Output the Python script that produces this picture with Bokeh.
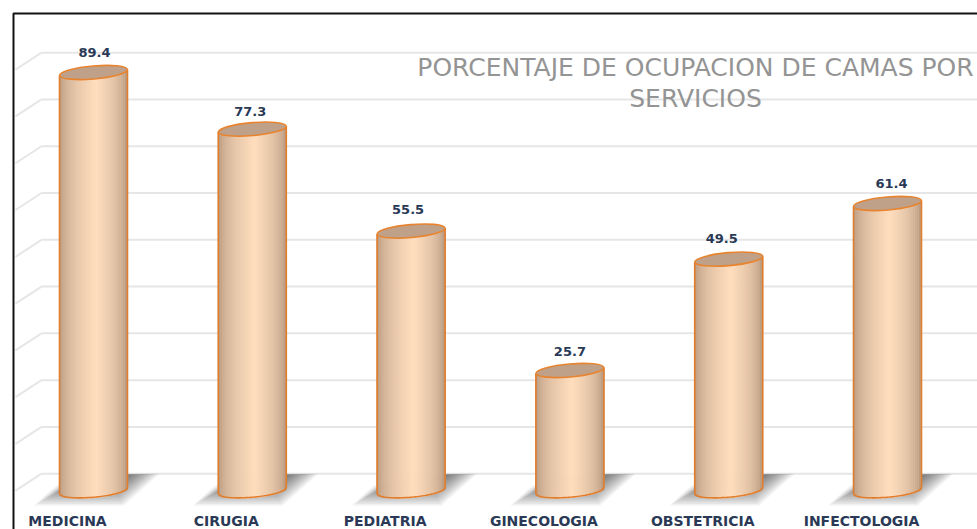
import numpy as np
from bokeh.plotting import figure, ColumnDataSource
from bokeh.models import Range1d
from bokeh.core.properties import value
from bokeh.embed import file_html
from bokeh.resources import INLINE

categories = ["MEDICINA", "CIRUGIA", "PEDIATRIA", "GINECOLOGIA", "OBSTETRICIA", "INFECTOLOGIA"]
occupancy = [89.4, 77.3, 55.5, 25.7, 49.5, 61.4]
grid_ticks = [0, 10, 20, 30, 40, 50, 60, 70, 80, 90]
title_lines = ["PORCENTAJE DE OCUPACION DE CAMAS POR", "SERVICIOS"]

W, H = 977, 529
PX_X = 158.8   # pixels per category
PX_Y = 4.678   # pixels per percent
X0, Y0 = 93.0, 490.2   # pixel position of category 0 / value 0


def dx(px):
    return px / PX_X


def dy(px):
    return px / PX_Y


p = figure(width=W, height=H, output_backend="svg", toolbar_location=None,
           x_range=Range1d(-X0 / PX_X, (W - X0) / PX_X),
           y_range=Range1d(-(H - Y0) / PX_Y, Y0 / PX_Y),
           min_border=0, outline_line_color=None, background_fill_color="white")
p.axis.visible = False
p.grid.visible = False

xs = np.arange(len(categories), dtype=float)
vals = np.array(occupancy)

# outer frame
left_x = -X0 / PX_X + dx(13)
top_y = Y0 / PX_Y - dy(13)
p.line([left_x, left_x, (W - X0) / PX_X], [-(H - Y0) / PX_Y, top_y, top_y], line_color="#111111", line_width=2)

# 3-D wall grid
wall_x = dx(41 - 93)
side_x = dx(15 - 93)
wall_up = dy(17)
ticks = np.array(grid_ticks, dtype=float)
p.segment(x0=[wall_x] * len(ticks), y0=ticks + wall_up, x1=[(W - X0) / PX_X] * len(ticks), y1=ticks + wall_up,
          line_color="#e6e6e6", line_width=2)
p.segment(x0=[side_x] * len(ticks), y0=ticks, x1=[wall_x] * len(ticks), y1=ticks + wall_up,
          line_color="#e6e6e6", line_width=2)

# floor shadows: stacked translucent parallelograms give a soft edge
outer_x = np.array([-5.0, 66.0, 30.0, -60.0])
outer_y = np.array([17.0, 17.0, -15.0, -15.0])
core_x = np.array([-5.0, 40.0, 20.0, -40.0])
core_y = np.array([16.0, 16.0, 4.0, 4.0])
N_LAYERS = 12
for x in xs:
    for k in range(N_LAYERS):
        f = k / (N_LAYERS - 1)
        sx = outer_x + (core_x - outer_x) * f
        sy = outer_y + (core_y - outer_y) * f
        p.patch(x + dx(sx), dy(sy), fill_color="black", fill_alpha=0.05, line_color=None)

# cylinders
A, B = 34.0, 6.5
TILT = np.radians(5)
N_STRIPS = 34
edges = np.linspace(-A, A, N_STRIPS + 1)
mids = (edges[:-1] + edges[1:]) / 2
dark = np.array([170, 140, 116])
light = np.array([255, 222, 190])


def strip_color(u):
    s = 1 - abs((u - 0.08) / (1.08 if u < 0.08 else 0.92))
    s = np.clip(s, 0, 1) ** 0.45
    c = dark + (light - dark) * s
    return "#%02x%02x%02x" % tuple(int(v) for v in c)


for x, v in zip(xs, vals):
    for m, e0, e1 in zip(mids, edges[:-1], edges[1:]):
        rise = np.tan(TILT) * m
        low = B * np.sqrt(max(0, 1 - (m / A) ** 2))
        col = strip_color(m / A)
        p.quad(left=x + dx(e0), right=x + dx(e1), top=v + dy(rise), bottom=dy(rise - low - 0.5),
               fill_color=col, line_color=col, line_width=1)
    arc = np.linspace(-A, A, 41)
    lows = np.tan(TILT) * arc - B * np.sqrt(1 - (arc / A) ** 2)
    px = np.concatenate([[-A], arc, [A]])
    py = np.concatenate([[np.tan(TILT) * -A + v * PX_Y], lows, [np.tan(TILT) * A + v * PX_Y]])
    p.line(x + dx(px), dy(py), line_color="#e27d2c", line_width=1.6)

p.ellipse(x=xs, y=vals, width=2 * A, height=2 * B, width_units="screen", height_units="screen",
          angle=TILT, fill_color="#bfa088", line_color="#e8842f", line_width=1.6)

# value labels (with the small per-label nudges seen in the picture)
label_src = ColumnDataSource(dict(x=xs, y=vals, t=[f"{v:.1f}" for v in vals],
                                  ox=[1, -2, -3, 0, -7, 4], oy=[-20, -18, -22, -19, -21, -20]))
p.text(x="x", y="y", text="t", x_offset="ox", y_offset="oy", source=label_src,
       text_font=value("DejaVu Sans"), text_font_style="bold", text_font_size="13px",
       text_color="#2a3a56", text_align="center", text_baseline="middle")

# category labels
p.text(x=xs, y=[0] * len(xs), text=categories, x_offset=-26, y_offset=30,
       text_font=value("DejaVu Sans"), text_font_style="bold", text_font_size="14px",
       text_color="#2a3a56", text_align="center", text_baseline="middle")

# title
title_x = dx(695 - 93)
p.text(x=[title_x, title_x], y=[dy(490.2 - 67), dy(490.2 - 98)], text=title_lines,
       text_font=value("DejaVu Sans"), text_font_size="25px", text_color="#949494",
       text_align="center", text_baseline="middle")

open("out.html", "w").write(file_html(p, INLINE))
